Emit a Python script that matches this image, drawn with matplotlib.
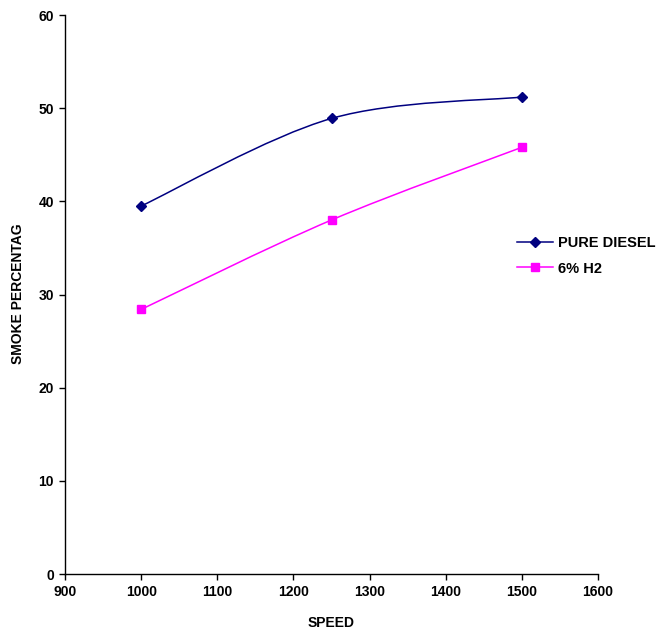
import numpy as np
import matplotlib
matplotlib.use("Agg")
import matplotlib.pyplot as plt
from matplotlib.path import Path
from matplotlib.patches import PathPatch

speed = [1000, 1250, 1500]
pure_diesel = [39.5, 48.9, 51.2]
h2_6pct = [28.4, 38.0, 45.8]

x_ticks = [900, 1000, 1100, 1200, 1300, 1400, 1500, 1600]
y_ticks = [0, 10, 20, 30, 40, 50, 60]


def smooth_path(xs, ys):
  # Excel-style smoothed line: cubic bezier through the points
  pts = np.column_stack([xs, ys]).astype(float)
  n = len(pts)
  verts = [pts[0]]
  codes = [Path.MOVETO]
  for i in range(n - 1):
    p_prev = pts[i - 1] if i > 0 else pts[i]
    p_next2 = pts[i + 2] if i + 2 < n else pts[i + 1]
    c1 = pts[i] + (pts[i + 1] - p_prev) / 6.0
    c2 = pts[i + 1] - (p_next2 - pts[i]) / 6.0
    verts += [c1, c2, pts[i + 1]]
    codes += [Path.CURVE4] * 3
  return Path(verts, codes)


def main():
  plt.rcParams['font.family'] = ['Liberation Sans', 'DejaVu Sans']
  plt.rcParams['font.weight'] = 'bold'

  fig = plt.figure(figsize=(6.56, 6.31), dpi=100)
  ax = fig.add_axes([0.0991, 0.0903, 0.8125, 0.8859])

  series = [
    (pure_diesel, "#000080", "D", 5, "PURE DIESEL"),
    (h2_6pct, "#FF00FF", "s", 6, "6% H2"),
  ]
  for ys, color, marker, ms, label in series:
    ax.add_patch(PathPatch(smooth_path(speed, ys), facecolor="none",
                           edgecolor=color, linewidth=1.1))
    ax.plot(speed, ys, linestyle="none", marker=marker, markersize=ms,
            color=color)
    # legend proxy
    ax.plot([], [], color=color, marker=marker, markersize=ms,
            linewidth=1.1, label=label)

  ax.set_xlim(900, 1600)
  ax.set_ylim(0, 60)
  ax.set_xticks(x_ticks)
  ax.set_yticks(y_ticks)
  ax.tick_params(direction="out", length=4, width=1, labelsize=10, pad=4)
  for lbl in ax.get_xticklabels() + ax.get_yticklabels():
    lbl.set_fontweight("bold")

  ax.spines["top"].set_visible(False)
  ax.spines["right"].set_visible(False)
  ax.spines["left"].set_linewidth(1)
  ax.spines["bottom"].set_linewidth(1)

  ax.set_xlabel("SPEED", fontsize=10, fontweight="bold", labelpad=12)
  fig.text(18 / 656, 1 - 294 / 631, "SMOKE PERCENTAG", rotation=90,
           ha="center", va="center", fontsize=10, fontweight="bold")

  ax.legend(loc="upper left", bbox_to_anchor=(0.768, 0.647),
            bbox_transform=fig.transFigure, frameon=False,
            handlelength=2.5, handletextpad=0.3,
            labelspacing=0.8, prop={"weight": "bold", "size": 10.5})

  fig.savefig("out.png", dpi=100)


if __name__ == '__main__':
  main()
